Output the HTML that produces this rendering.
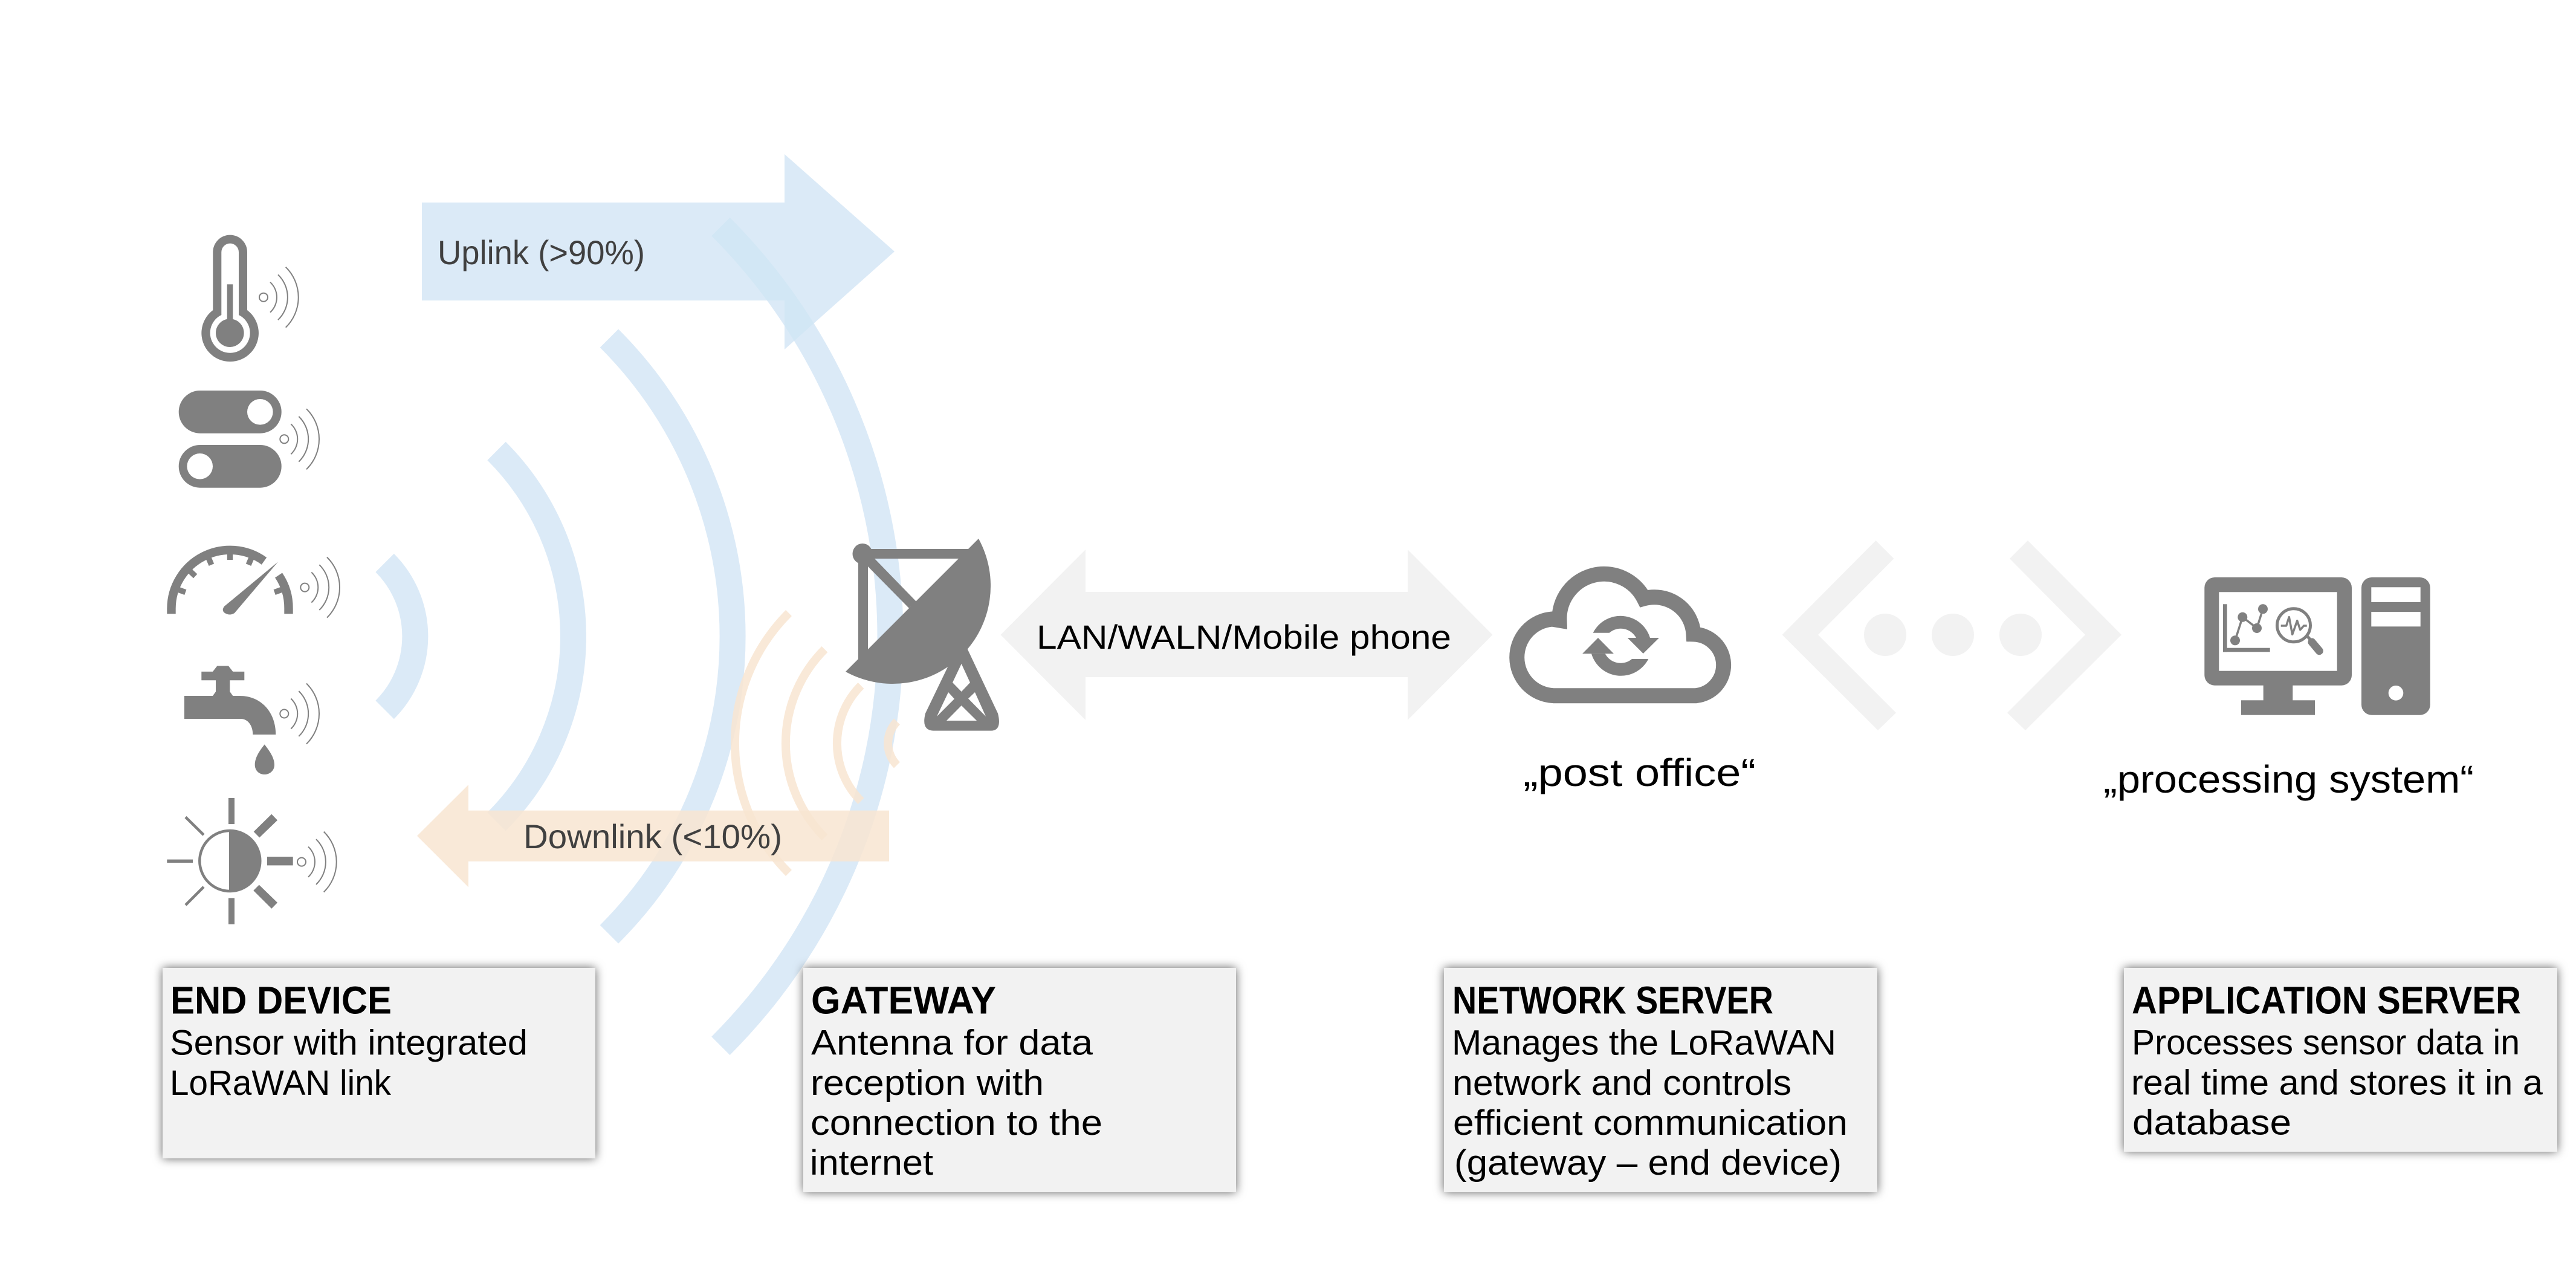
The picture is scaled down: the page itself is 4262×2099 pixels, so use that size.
<!DOCTYPE html>
<html>
<head>
<meta charset="utf-8">
<title>LoRaWAN architecture</title>
<style>
html,body{margin:0;padding:0;background:#fff;width:4262px;height:2099px;overflow:hidden}
svg{display:block;position:absolute;left:0;top:0}
text{font-family:"Liberation Sans",sans-serif;fill:#000}
.b{font-weight:700;font-size:64px}
.n{font-size:58px}
.l{font-size:56px;fill:#404040}
.g{fill:#808080}
</style>
</head>
<body>
<svg width="4262" height="2099" viewBox="0 0 4262 2099" xmlns="http://www.w3.org/2000/svg">
<defs>
<filter id="s" x="-8%" y="-8%" width="116%" height="116%"><feDropShadow dx="0" dy="0" stdDeviation="8" flood-color="#000" flood-opacity="0.62"/></filter>
<clipPath id="upc"><polygon points="698,335 1298,335 1298,255 1480,416 1298,578 1298,497 698,497"/></clipPath>
<g id="sig" fill="none" stroke="#808080" stroke-width="2">
<circle cx="0" cy="0" r="7"/>
<path d="M11,-25A34,34 0 0 1 11,25"/>
<path d="M24,-37.4A52,52 0 0 1 24,37.4"/>
<path d="M36.7,-50A70,70 0 0 1 36.7,50"/>
</g>
</defs>

<!-- blue arcs -->
<g fill="none" stroke="#dbeaf7" stroke-width="43">
<path d="M636.6,931A172,172 0 0 1 636.6,1174"/>
<path d="M821.5,746A433.5,433.5 0 0 1 821.5,1359"/>
<path d="M1007.9,559.6A697,697 0 0 1 1007.9,1545.4"/>
<path d="M1192.4,375.1A958,958 0 0 1 1192.4,1729.9"/>
</g>

<!-- uplink arrow -->
<polygon points="698,335 1298,335 1298,255 1480,416 1298,578 1298,497 698,497" fill="#dbeaf7"/>
<path d="M1192.4,375.1A958,958 0 0 1 1192.4,1729.9" fill="none" stroke="#d2e7f5" stroke-width="43" clip-path="url(#upc)"/>

<!-- orange arcs -->
<g fill="none" stroke="#f8e5d1" stroke-opacity="0.85" stroke-width="14">
<path d="M1305,1014A304,304 0 0 0 1305,1444"/>
<path d="M1364.4,1073.9A220,220 0 0 0 1364.4,1385.1"/>
<path d="M1424.5,1134A135,135 0 0 0 1424.5,1325"/>
<path d="M1484,1193.5A51,51 0 0 0 1484,1265.5"/>
</g>

<!-- downlink arrow -->
<polygon points="690,1382.6 775,1298 775,1340.6 1471,1340.6 1471,1424.7 775,1424.7 775,1467.5" fill="#f8e5d1" fill-opacity="0.85"/>

<text class="l" x="724" y="437" textLength="343" lengthAdjust="spacingAndGlyphs">Uplink (&gt;90%)</text>
<text class="l" x="866" y="1403" textLength="428" lengthAdjust="spacingAndGlyphs">Downlink (&lt;10%)</text>

<!-- thermometer -->
<path class="g" d="M352.3,513V417A28.35,28.35 0 0 1 409,417V513A47.3,47.3 0 1 1 352.3,513Z"/>
<path fill="#fff" d="M366.3,521V417A14.35,14.35 0 0 1 395,417V521A33,33 0 1 1 366.3,521Z"/>
<rect class="g" x="375.7" y="470.3" width="9.6" height="70"/>
<circle class="g" cx="380.3" cy="550.7" r="23.3"/>
<use href="#sig" x="436" y="491.7"/>

<!-- switches -->
<rect class="g" x="295.7" y="646" width="170" height="70.7" rx="35.3"/>
<circle cx="430.3" cy="681.3" r="21.3" fill="#fff"/>
<rect class="g" x="295.7" y="736" width="170" height="70.7" rx="35.3"/>
<circle cx="330.7" cy="771.3" r="21.3" fill="#fff"/>
<use href="#sig" x="470.3" y="726.3"/>

<!-- gauge -->
<path d="M283.5,1015.4V1006.4A97,97 0 0 1 437,928" fill="none" stroke="#808080" stroke-width="14.4"/>
<path d="M461,951.5A97,97 0 0 1 477.5,1006.4V1015.4" fill="none" stroke="#808080" stroke-width="14.4"/>
<g stroke="#808080" stroke-width="9.3">
<line x1="380.5" y1="912" x2="380.5" y2="926"/>
<line x1="380.5" y1="912" x2="380.5" y2="928" transform="rotate(-23 380.5 1006.4)"/>
<line x1="380.5" y1="912" x2="380.5" y2="928" transform="rotate(-47 380.5 1006.4)"/>
<line x1="380.5" y1="912" x2="380.5" y2="928" transform="rotate(-70 380.5 1006.4)"/>
<line x1="380.5" y1="912" x2="380.5" y2="928" transform="rotate(23 380.5 1006.4)"/>
<line x1="380.5" y1="912" x2="380.5" y2="928" transform="rotate(70 380.5 1006.4)"/>
</g>
<path class="g" d="M460,929.2L371,1003Q366,1010 372,1014Q380,1019 388,1014Z"/>
<use href="#sig" x="504.3" y="971.6"/>

<!-- tap -->
<path class="g" d="M333.3,1110.9H352L359.3,1101.5H378L385.3,1110.9H404.3V1125.2H380.3V1144L385.3,1151H396.7C432,1151 456.3,1178 456.3,1215H418.3C418.3,1200 410,1189 398.3,1189H305V1151H352L357,1144V1125.2H333.3Z"/>
<path class="g" d="M437.7,1231.4C444,1240 454,1252 454,1265C454,1275 446,1281 437.7,1281C429,1281 421.7,1275 421.7,1265C421.7,1252 431,1240 437.7,1231.4Z"/>
<use href="#sig" x="470.3" y="1180.5"/>

<!-- sun -->
<circle cx="380.3" cy="1424" r="50" fill="none" stroke="#808080" stroke-width="4.5"/>
<path class="g" d="M379,1372A52,52 0 0 1 379,1476Z"/>
<rect class="g" x="378" y="1320" width="10" height="43"/>
<rect class="g" x="378" y="1485.4" width="10" height="43.3"/>
<rect class="g" x="276.3" y="1421.6" width="42.7" height="5.4"/>
<rect class="g" x="442" y="1417" width="42.7" height="14.4"/>
<polygon class="g" points="449.3,1346.6 459,1356.8 429.3,1385.4 419.7,1375.6"/>
<polygon class="g" points="428.7,1463.6 459,1493 449.3,1502.9 419.3,1473"/>
<line x1="307" y1="1351.5" x2="337" y2="1381" stroke="#808080" stroke-width="4.5"/>
<line x1="337" y1="1467" x2="307" y2="1497" stroke="#808080" stroke-width="4.5"/>
<use href="#sig" x="499" y="1425.6"/>

<!-- satellite dish -->
<path class="g" d="M1619,891A162,162 0 0 1 1399,1111Z"/>
<rect class="g" x="1430" y="908" width="175" height="16"/>
<rect class="g" x="1420" y="916" width="16" height="176"/>
<ellipse class="g" cx="1427" cy="916" rx="16.5" ry="17"/>
<polygon class="g" points="1436,937 1504,1006 1516,995 1447,924 1430,920"/>
<path class="g" d="M1572,1095L1531,1180Q1524,1208 1544,1208.6H1640Q1658,1208 1651,1180L1599,1070Z"/>
<g fill="#fff">
<polygon points="1590.7,1098 1605,1129 1590.7,1144 1576,1129"/>
<polygon points="1569,1145 1579,1156 1550,1185"/>
<polygon points="1613,1145 1602,1155.5 1631,1185"/>
<polygon points="1590.7,1167 1616,1192 1566,1192"/>
</g>

<!-- LAN arrow -->
<polygon points="1655.5,1050 1796,909 1796,979 2329,979 2329,909 2469.5,1050 2329,1191 2329,1120 1796,1120 1796,1191" fill="#f2f2f2"/>
<text x="1715" y="1073" font-size="56" textLength="686" lengthAdjust="spacingAndGlyphs">LAN/WALN/Mobile phone</text>

<!-- cloud -->
<path d="M2570,1150.7A63.5,63.5 0 0 1 2568,1024L2580,1026A74,74 0 0 1 2720,990A65,65 0 0 1 2802,1049A51,51 0 0 1 2806,1150.7Z" fill="none" stroke="#808080" stroke-width="25"/>
<path class="g" d="M2635.7,1046.7A51,51 0 0 1 2730,1055H2707A29,29 0 0 0 2662.7,1046.7Z"/>
<polygon class="g" points="2692.7,1055 2745,1055 2718.7,1081"/>
<path class="g" d="M2727.3,1090A51,51 0 0 1 2633,1081.3H2655.7A29,29 0 0 0 2700,1090Z"/>
<polygon class="g" points="2644,1055 2670,1081.3 2618,1081.3"/>
<text x="2520" y="1300" font-size="64" textLength="385" lengthAdjust="spacingAndGlyphs">„post office“</text>

<!-- dots chevrons -->
<g fill="#f2f2f2">
<polygon points="3103.5,894 2948.5,1050 3107,1208 3137,1179 3008,1050 3133.5,924"/>
<polygon points="3355,894 3510,1050 3351,1208 3321,1179 3450,1050 3325,924"/>
<circle cx="3119" cy="1050" r="35"/>
<circle cx="3231" cy="1050" r="35"/>
<circle cx="3343" cy="1050" r="35"/>
</g>

<!-- computer -->
<rect class="g" x="3647.3" y="955" width="243.7" height="178.7" rx="17"/>
<rect x="3671.3" y="979.3" width="195.4" height="130.4" fill="#fff"/>
<rect class="g" x="3744.7" y="1130" width="48.6" height="30"/>
<rect class="g" x="3708" y="1158.3" width="122" height="24.4"/>
<rect class="g" x="3907" y="955" width="113.7" height="227.7" rx="17"/>
<rect x="3923.3" y="971.3" width="81.4" height="24.7" fill="#fff"/>
<rect x="3923.3" y="1012" width="81.4" height="24.3" fill="#fff"/>
<circle cx="3964" cy="1146.3" r="12.3" fill="#fff"/>
<rect class="g" x="3678" y="999.3" width="6.7" height="79"/>
<rect class="g" x="3678" y="1071.7" width="77.7" height="6.6"/>
<polyline points="3698,1059.3 3710.3,1020.7 3734,1039 3744,1007.3" fill="none" stroke="#808080" stroke-width="3.5"/>
<circle class="g" cx="3698" cy="1059.3" r="8"/>
<circle class="g" cx="3710.3" cy="1020.7" r="8"/>
<circle class="g" cx="3734" cy="1039" r="8"/>
<circle class="g" cx="3744" cy="1007.3" r="8"/>
<circle cx="3795" cy="1034.3" r="27.5" fill="none" stroke="#808080" stroke-width="5"/>
<line x1="3818" y1="1053" x2="3826" y2="1062" stroke="#808080" stroke-width="5"/>
<line x1="3825" y1="1062" x2="3837.3" y2="1076.7" stroke="#808080" stroke-width="13" stroke-linecap="round"/>
<polyline points="3773.7,1035 3782.7,1035 3787.3,1020.7 3792.7,1049.3 3800.7,1026.7 3805.7,1041.7 3811.7,1035 3816.7,1035" fill="none" stroke="#808080" stroke-width="3.5" stroke-linejoin="round"/>
<text x="3480" y="1311" font-size="64" textLength="613" lengthAdjust="spacingAndGlyphs">„processing system“</text>

<!-- cards -->
<g fill="#f2f2f2" filter="url(#s)">
<rect x="269" y="1601" width="716" height="315"/>
<rect x="1329" y="1601" width="716" height="371"/>
<rect x="2389" y="1601" width="717" height="371"/>
<rect x="3514" y="1601" width="717" height="304"/>
</g>

<text class="b" x="282" y="1676.7" textLength="366" lengthAdjust="spacingAndGlyphs">END DEVICE</text>
<text class="n" x="281" y="1744.5" textLength="592" lengthAdjust="spacingAndGlyphs">Sensor with integrated</text>
<text class="n" x="281" y="1811" textLength="366" lengthAdjust="spacingAndGlyphs">LoRaWAN link</text>

<text class="b" x="1342" y="1676.7" textLength="306" lengthAdjust="spacingAndGlyphs">GATEWAY</text>
<text class="n" x="1342" y="1744.5" textLength="466" lengthAdjust="spacingAndGlyphs">Antenna for data</text>
<text class="n" x="1341" y="1811" textLength="386" lengthAdjust="spacingAndGlyphs">reception with</text>
<text class="n" x="1341" y="1877" textLength="483" lengthAdjust="spacingAndGlyphs">connection to the</text>
<text class="n" x="1340" y="1943" textLength="204" lengthAdjust="spacingAndGlyphs">internet</text>

<text class="b" x="2403" y="1676.7" textLength="531" lengthAdjust="spacingAndGlyphs">NETWORK SERVER</text>
<text class="n" x="2402" y="1744.5" textLength="636" lengthAdjust="spacingAndGlyphs">Manages the LoRaWAN</text>
<text class="n" x="2403" y="1811" textLength="561" lengthAdjust="spacingAndGlyphs">network and controls</text>
<text class="n" x="2404" y="1877" textLength="653" lengthAdjust="spacingAndGlyphs">efficient communication</text>
<text class="n" x="2406" y="1943" textLength="641" lengthAdjust="spacingAndGlyphs">(gateway – end device)</text>

<text class="b" x="3527" y="1676.7" textLength="644" lengthAdjust="spacingAndGlyphs">APPLICATION SERVER</text>
<text class="n" x="3527" y="1744" textLength="642" lengthAdjust="spacingAndGlyphs">Processes sensor data in</text>
<text class="n" x="3526" y="1810.5" textLength="681" lengthAdjust="spacingAndGlyphs">real time and stores it in a</text>
<text class="n" x="3528" y="1876.5" textLength="263" lengthAdjust="spacingAndGlyphs">database</text>
</svg>
</body>
</html>
